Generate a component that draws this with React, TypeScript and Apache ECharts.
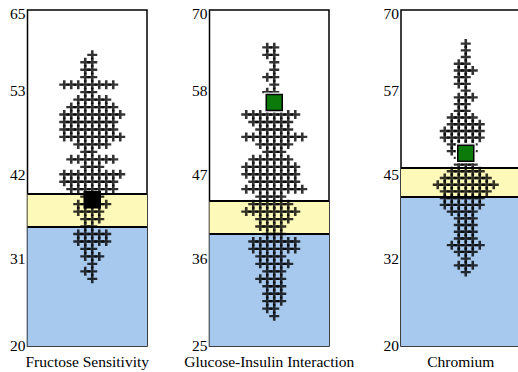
import React, { useEffect, useRef } from "react";
import * as echarts from "echarts";

// ---- data ----
const panelTitles = ["Fructose Sensitivity", "Glucose-Insulin Interaction", "Chromium"];
const yMins = [20, 25, 20];
const yMaxs = [65, 70, 70];
const blueTops = [36, 40, 42.2];
const yellowTops = [40.4, 44.4, 46.5];
const squareValues = [39.6, 57.6, 48.7];
const squareColors = ["#000000", "#0b7a0b", "#0b7a0b"];

const fructoseRows = [59, 58, 57, 56, 55, 54, 53, 52, 51, 50, 49, 48, 47, 46, 45, 44, 43, 42, 41, 40, 39, 38, 37, 36, 35, 34, 33, 32, 31, 30, 29];
const fructoseCounts = [1, 2, 2, 2, 8, 2, 5, 7, 9, 8, 8, 9, 5, 2, 7, 3, 9, 8, 7, 3, 5, 4, 3, 2, 5, 5, 2, 3, 1, 2, 1];

const glucoseRows = [65, 64, 63, 62, 61, 60, 59, 58, 56, 55, 54, 53, 52, 51, 50, 49, 48, 47, 46, 45, 44, 43, 42, 41, 40, 39, 38, 37, 36, 35, 34, 33, 32, 31, 30, 29];
const glucoseCounts = [2, 2, 1, 1, 2, 1, 2, 1, 8, 6, 5, 9, 5, 3, 6, 8, 8, 7, 9, 4, 6, 8, 5, 4, 3, 7, 7, 4, 5, 3, 4, 3, 3, 3, 2, 1];

const chromiumRows = [65, 64, 63, 62, 61, 60, 59, 58, 57, 56, 55, 54, 53, 52, 51, 50, 49, 48, 47, 46, 45, 44, 43, 42, 41, 40, 39, 38, 37, 36, 35, 34, 33, 32, 31];
const chromiumCounts = [1, 1, 1, 2, 3, 2, 2, 1, 3, 2, 2, 4, 5, 6, 6, 4, 4, 2, 3, 5, 7, 9, 7, 6, 6, 4, 3, 3, 3, 3, 5, 3, 1, 3, 1];

const panelRows = [fructoseRows, glucoseRows, chromiumRows];
const panelCounts = [fructoseCounts, glucoseCounts, chromiumCounts];

// ---- layout ----
const gridLefts = [27.5, 209.5, 401];
const gridTop = 10;
const gridHeight = 336;
const gridWidth = 119.5;
const xMin = -9.25;
const xMax = 7.82;

const plusPath = "path://M3.7,0H6.3V3.7H10V6.3H6.3V10H3.7V6.3H0V3.7H3.7Z";
const FONT = "Liberation Serif";
const FS = 15.5;

function buildPoints(rows: number[], counts: number[]) {
  const pts: number[][] = [];
  rows.forEach((y, r) => {
    const n = counts[r];
    for (let i = 0; i < n; i++) {
      const k = Math.ceil(i / 2);
      const x = i === 0 ? 0 : i % 2 === 1 ? -k : k;
      pts.push([x, y]);
    }
  });
  return pts;
}

export default function App() {
  const ref = useRef<HTMLDivElement>(null);
  useEffect(() => {
    if (!ref.current) return;
    const chart = echarts.init(ref.current, undefined, { renderer: "svg" });
    const grids: any[] = [];
    const xAxes: any[] = [];
    const yAxes: any[] = [];
    const series: any[] = [];
    for (let p = 0; p < 3; p++) {
      const mn = yMins[p];
      const mx = yMaxs[p];
      const step = (mx - mn) / 4;
      const ticks = [0, 1, 2, 3, 4].map((k) => mn + k * step);
      grids.push({
        left: gridLefts[p],
        top: gridTop,
        width: gridWidth,
        height: gridHeight,
        outerBoundsMode: "none",
        containLabel: false,
        show: true,
        borderColor: "#000",
        borderWidth: 1.5,
        backgroundColor: "#fff",
        z: 0,
      });
      xAxes.push({
        gridIndex: p,
        type: "value",
        min: xMin,
        max: xMax,
        axisLine: { show: false },
        axisTick: { show: false },
        axisLabel: { show: false },
        splitLine: { show: false },
        name: panelTitles[p],
        nameLocation: "middle",
        nameGap: 8,
        nameTextStyle: { fontFamily: FONT, fontSize: FS, color: "#000", lineHeight: 15 },
      });
      yAxes.push({
        gridIndex: p,
        type: "value",
        min: mn,
        max: mx,
        axisLine: { show: false },
        axisTick: { show: false },
        splitLine: { show: false },
        axisLabel: {
          customValues: ticks,
          margin: 2,
          color: "#000",
          fontFamily: FONT,
          fontSize: FS,
          formatter: (v: number) => {
            const f = Math.floor(v + 1e-9);
            if (Math.abs(v - mx) < 1e-9) return `{t|${f}}`;
            if (Math.abs(v - mn) < 1e-9) return `{b|${f}}`;
            return `{m|${f}}`;
          },
          rich: {
            t: { fontFamily: FONT, fontSize: FS, color: "#000", padding: [6, 0, 0, 0] },
            m: { fontFamily: FONT, fontSize: FS, color: "#000", padding: [0, 0, 8, 0] },
            b: { fontFamily: FONT, fontSize: FS, color: "#000", lineHeight: 11, padding: [0, 0, 2, 0] },
          },
        },
      });
      series.push({
        type: "scatter",
        xAxisIndex: p,
        yAxisIndex: p,
        symbol: plusPath,
        symbolSize: [10, 9],
        itemStyle: { color: "#000" },
        data: buildPoints(panelRows[p], panelCounts[p]),
        z: 3,
        markArea: {
          silent: true,
          data: [
            [{ yAxis: mn, itemStyle: { color: "#a8c9ee" } }, { yAxis: blueTops[p] }],
            [{ yAxis: blueTops[p], itemStyle: { color: "#fcf9b9" } }, { yAxis: yellowTops[p] }],
          ],
        },
        markLine: {
          silent: true,
          symbol: ["none", "none"],
          label: { show: false },
          lineStyle: { color: "#000", width: 1.8, type: "solid" },
          data: [{ yAxis: blueTops[p] }, { yAxis: yellowTops[p] }],
        },
      });
      // white halo around the square
      series.push({
        type: "scatter",
        xAxisIndex: p,
        yAxisIndex: p,
        symbol: "rect",
        symbolSize: p === 0 ? 16 : 20,
        itemStyle: { color: "#fff", opacity: p === 0 ? 0 : 1 },
        data: [[0, squareValues[p]]],
        z: 8,
      });
      series.push({
        type: "scatter",
        xAxisIndex: p,
        yAxisIndex: p,
        symbol: "rect",
        symbolSize: 16,
        itemStyle: { color: squareColors[p], borderColor: "#000", borderWidth: 1.5, opacity: 1 },
        data: [[0, squareValues[p]]],
        z: 10,
      });
    }
    chart.setOption({
      animation: false,
      textStyle: { fontFamily: FONT },
      grid: grids,
      xAxis: xAxes,
      yAxis: yAxes,
      series,
    });
    return () => chart.dispose();
  }, []);
  return (
    <div
      ref={ref}
      style={{ position: "fixed", left: 0, top: 0, width: 518, height: 372, background: "#fff" }}
    />
  );
}
